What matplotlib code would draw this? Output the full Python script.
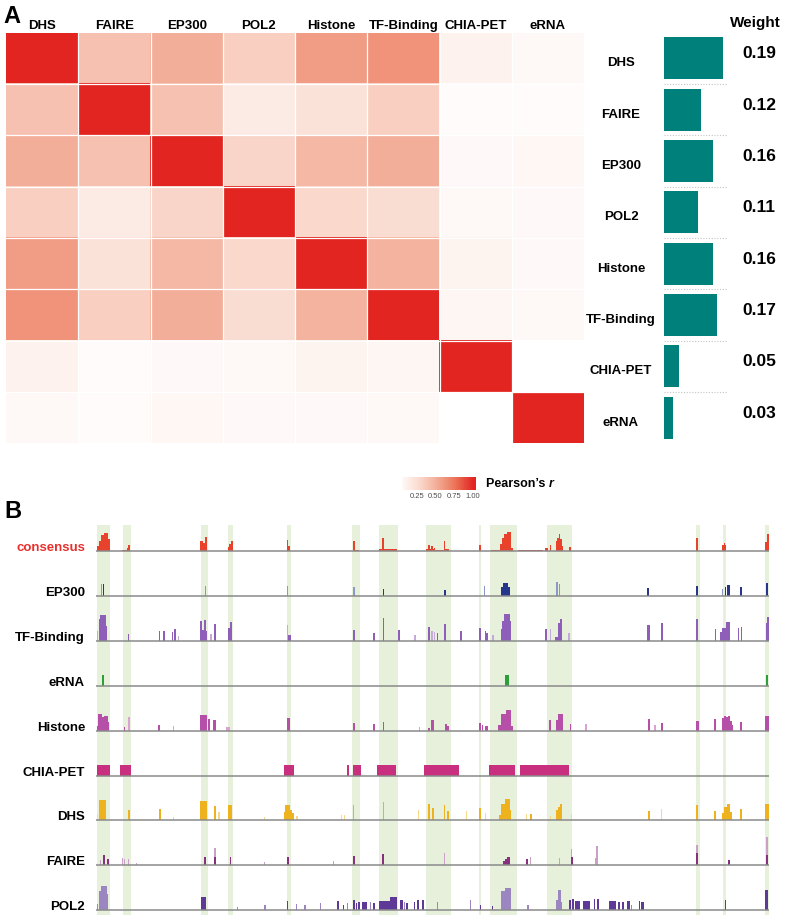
import matplotlib
matplotlib.use("Agg")
import numpy as np
import matplotlib.pyplot as plt
from matplotlib.colors import LinearSegmentedColormap, to_rgb
from matplotlib.transforms import blended_transform_factory

plt.rcParams['font.family'] = ['Liberation Sans', 'DejaVu Sans']

# ---------------- data: panel A ----------------
marks = ["DHS", "FAIRE", "EP300", "POL2", "Histone", "TF-Binding", "CHIA-PET", "eRNA"]
corr_dhs = [1.00, 0.40, 0.50, 0.33, 0.58, 0.62, 0.10, 0.05]
corr_faire = [0.40, 1.00, 0.40, 0.15, 0.22, 0.33, 0.03, 0.03]
corr_ep300 = [0.50, 0.40, 1.00, 0.30, 0.45, 0.50, 0.04, 0.06]
corr_pol2 = [0.33, 0.15, 0.30, 1.00, 0.28, 0.25, 0.05, 0.04]
corr_histone = [0.58, 0.22, 0.45, 0.28, 1.00, 0.48, 0.09, 0.04]
corr_tf = [0.62, 0.33, 0.50, 0.25, 0.48, 1.00, 0.07, 0.05]
corr_chia = [0.10, 0.03, 0.04, 0.05, 0.09, 0.07, 1.00, 0.00]
corr_erna = [0.05, 0.03, 0.06, 0.04, 0.04, 0.05, 0.00, 1.00]
weights = [0.19, 0.12, 0.16, 0.11, 0.16, 0.17, 0.05, 0.03]
cbar_ticks = [0.25, 0.50, 0.75, 1.00]
cbar_labels = ["0.25", "0.50", "0.75", "1.00"]
cbar_range = (0.045, 1.03)

# ---------------- data: panel B ----------------
track_names = ["consensus", "EP300", "TF-Binding", "eRNA", "Histone",
               "CHIA-PET", "DHS", "FAIRE", "POL2"]
track_extent = (96, 768.5)
highlight_regions = [(97, 110), (123, 131), (201, 207.7), (227.7, 233), (287, 290.5),
                     (352, 360), (379, 397.7), (426.3, 450.7), (479, 481.3),
                     (489.7, 516.7), (547, 571.7), (696.3, 699.5), (723, 726),
                     (765.3, 769.5)]

# peaks: (start, end, height, tone)  tone 1 = full colour, 0 = light
consensus = [(97, 99, 5, 1), (99, 101, 10, 1), (101, 104, 16, 1), (104, 108, 18, 1), (108, 110, 12, 1),
             (121.7, 126.7, 1.5, 1), (126.7, 128.3, 3, 1), (128.3, 130, 6, 1),
             (200.3, 203, 10, 1), (203, 205, 8, 1), (205, 207.3, 14, 1),
             (227.7, 229, 4, 1), (229, 231, 7, 1), (231, 232.5, 10, 1),
             (287, 288, 11, 1), (288, 289.7, 5, 1),
             (353, 355.3, 10, 1), (355.3, 359, 1, 1),
             (379, 382.3, 2, 1), (382.3, 384, 13, 1), (384, 397, 2, 1),
             (426.3, 428, 2, 1), (428, 429.7, 6, 1), (429.7, 431.3, 2, 1), (431.3, 433.3, 5, 1),
             (433.3, 434, 2, 1), (434, 435, 3, 1), (435, 444, 1.5, 1), (444, 445.3, 10, 1), (445.3, 449, 2, 1),
             (479, 480.7, 6, 1),
             (491, 499.7, 1, 1), (499.7, 502, 7, 1), (502, 504, 13, 1), (504, 507, 17, 1), (507, 511.3, 19, 1),
             (511.3, 513, 3, 1), (518, 543, 1, 1),
             (544.7, 548, 3, 1), (549.7, 551.3, 6, 1), (555.7, 557, 10, 1), (557, 558.5, 13, 1),
             (558.5, 560, 17, 1), (560, 561.5, 12, 1), (561.5, 563, 5, 1), (569, 571.3, 4, 1),
             (696.3, 698.3, 13, 1), (722, 724, 6, 1), (724, 725, 8, 1), (725, 726, 6, 1),
             (765.3, 766.5, 9, 1), (766.5, 768.7, 17, 1)]

ep300 = [(101, 102.3, 12, 0), (103, 104.3, 12, 1), (204.7, 205.7, 10, 0), (287, 287.7, 10, 0),
         (353.3, 354.7, 8.7, 0), (382.7, 384.3, 7, 1), (444, 445.7, 6, 1), (484, 485, 10, 0),
         (500.7, 502.5, 9, 1), (502.5, 507.5, 12.7, 1), (507.5, 509.7, 9, 1),
         (556.3, 558, 14, 0), (558.7, 560.3, 12, 0), (647.3, 649, 8, 1), (696.3, 698, 10, 1),
         (722, 723.3, 7, 0), (725, 726, 9, 1), (727.3, 729.7, 11, 1), (739.7, 741.7, 9, 1),
         (765.7, 767.7, 13, 1)]

tf_binding = [(97, 98, 10, 0), (99, 100, 22, 1), (100, 106, 26, 1), (106, 106.7, 15, 1), (127.7, 129, 7, 1),
              (159, 160.3, 10, 1), (163.3, 164.7, 10, 1), (171.7, 173, 9, 1), (174.3, 175.7, 12, 1),
              (178.3, 179.3, 5, 0), (200.3, 201.5, 20, 1), (201.5, 204, 11, 1), (204, 205.5, 21, 1),
              (205.5, 206.7, 10, 1), (210.3, 211.7, 7, 0), (213.7, 215.7, 17, 1), (228.3, 230, 13, 1),
              (230, 231.7, 19, 1), (287, 288.3, 16, 0), (288.3, 290.7, 6, 1),
              (353, 354.7, 11, 1), (373, 374.7, 8, 1), (382.7, 384.3, 23, 1), (398.3, 400, 11, 1),
              (414.3, 415.7, 6, 0), (428, 429.7, 14, 1), (431.3, 432.7, 10, 0), (434, 435.3, 9, 0),
              (437, 438.3, 8, 1), (444, 445.7, 17, 1), (460.3, 462, 10, 1), (479, 480.7, 13, 1),
              (484.7, 486.3, 10, 1), (486.3, 488, 8, 1), (492.3, 494, 6, 0), (500.7, 502, 12, 1),
              (502, 504, 20, 1), (504, 509.7, 26.7, 1), (509.7, 510.7, 20, 1),
              (544.7, 547.3, 12, 1), (549.7, 551, 12, 0), (555, 557.7, 4, 1), (557.7, 559.7, 18, 1),
              (559.7, 561.7, 22, 1), (568.3, 569.7, 8, 0), (647.3, 649.7, 15.7, 1), (661.3, 663, 18, 1),
              (696.3, 698.3, 21.7, 1), (714.7, 716.3, 12, 1), (719.7, 722.3, 9, 1), (722.3, 725.7, 13, 1),
              (725.7, 730.3, 19, 1), (737.7, 739, 13, 1), (741, 742.3, 14, 1), (765.7, 766.7, 18, 1),
              (766.7, 769, 24, 1)]

erna = [(101.7, 104, 10.7, 1), (504.7, 509.3, 10.7, 1), (766.3, 768.3, 11, 1)]

histone = [(96.7, 98.3, 5, 1), (98.3, 102.3, 17, 1), (102.3, 104.3, 14, 1), (104.3, 107.7, 15, 1),
           (107.7, 109, 9, 1), (123.7, 125, 4, 1), (127.7, 129.7, 14, 0), (158.3, 160.3, 6, 1),
           (172.7, 174, 5, 0), (200.3, 207, 16, 1), (208.3, 210.3, 12, 1), (213.3, 216, 11, 1),
           (226, 229.7, 4, 0), (287, 289.7, 13, 1),
           (352.7, 354.7, 8, 1), (373, 374.7, 7, 1), (382.7, 384.3, 9, 1), (419, 420.3, 4, 0),
           (428, 429.7, 3, 1), (430.7, 434, 11, 1), (444.7, 446.7, 7, 1), (446.7, 448.7, 5, 1),
           (479, 481.3, 8, 1), (481.7, 483, 6, 1), (484.7, 488, 5, 1), (498, 500.7, 6, 1),
           (500.7, 506.3, 17, 1), (506.3, 510.7, 20.7, 1), (510.7, 513, 5, 1),
           (549, 551, 10.7, 1), (555.7, 558.3, 11, 1), (558.3, 563, 16.3, 1), (569.7, 571.3, 7, 1),
           (585, 587, 7, 0), (648, 650, 11.7, 1), (654, 655.7, 6, 0), (661, 662.7, 8, 1),
           (696.3, 699, 10, 1), (714.3, 716, 12, 1), (722, 724, 13, 1), (724, 726, 15, 1),
           (726, 728, 14, 1), (728, 730, 15, 1), (730, 731.5, 10, 1), (731.5, 733, 6, 1),
           (739.7, 742.3, 9, 1), (765, 768.7, 14.7, 1)]

chia_pet = [(96, 110, 11, 1), (120, 130.7, 11, 1), (283.7, 294.3, 11, 1), (346.7, 348.7, 11, 1),
            (352.7, 361.3, 11, 1), (377, 396, 11, 1), (423.7, 459, 11, 1), (489, 515.3, 11, 1),
            (520.3, 569.3, 11, 1)]

dhs = [(96, 97.7, 6, 0), (99, 106, 20, 1), (127.7, 129.7, 10, 1), (159, 160.7, 11, 1), (172.7, 174, 3, 0),
       (200.3, 206.7, 19, 1), (213.7, 215.7, 14, 1), (218.3, 219.7, 8, 0), (227.7, 232.3, 15.7, 1),
       (264.3, 265.3, 3, 0), (283.7, 285, 8, 1), (285, 290, 15, 1), (290, 291.7, 10, 1),
       (292.3, 294, 7, 1), (296, 297.7, 4, 0),
       (340.7, 342, 5, 0), (344, 345.3, 5, 0), (353, 354.3, 15, 1), (382.7, 384, 18, 1),
       (418, 419, 10, 0), (428, 430, 16, 1), (432.3, 434, 12, 1), (444, 445.3, 15, 1),
       (447.3, 449.3, 9, 1), (466, 467.3, 9, 0), (479, 480.7, 12, 1), (484.7, 486.3, 7, 0),
       (499, 501.3, 5, 1), (501.3, 504.7, 16, 1), (504.7, 509.7, 21, 1), (509.7, 510.7, 10, 1),
       (525.7, 527.3, 6, 0), (530, 531.7, 6, 1),
       (549.7, 551, 4, 0), (555.7, 557.7, 10, 1), (557.7, 559.7, 13, 1), (559.7, 561.7, 16, 1),
       (571.3, 572.3, 6, 0), (648, 650, 9, 1), (661, 662.3, 11, 0), (696.3, 698.3, 15, 1),
       (714.3, 716, 9, 1), (722, 724, 7, 1), (724, 727, 13, 1), (727, 730.3, 16, 1),
       (730.3, 731.7, 8, 1), (739.7, 742.3, 11, 1), (765.3, 768.7, 16, 1)]

faire = [(99.7, 101, 5, 0), (103.3, 104.7, 10, 1), (107.3, 108.7, 6, 1), (121.7, 123.3, 7, 0),
         (124, 125.3, 6, 0), (127.7, 128.7, 6, 0), (136.3, 137, 2, 0), (204.3, 206, 8, 1),
         (214, 215.7, 17, 0), (214, 215.7, 8, 1), (229.7, 231.3, 8, 1), (264.3, 265.3, 3, 0),
         (287, 289, 8, 1),
         (333.3, 334, 4, 0), (344.7, 345.3, 4, 0), (353, 354.7, 9, 1), (382.3, 384.3, 11, 1),
         (444.3, 445.3, 12, 0), (503, 504.7, 4, 1), (505.3, 507.3, 6, 1), (507.3, 510, 8, 1),
         (526, 527.7, 6, 1), (530, 531.3, 8, 0),
         (559, 560.3, 7, 0), (571, 572, 16, 0), (570.7, 573, 8, 1), (594.7, 596.3, 7, 0),
         (596.3, 598, 19, 0), (696.3, 698, 20, 0), (696.3, 698, 12, 1), (728, 729.7, 5, 1),
         (766, 768, 28, 0), (766, 768, 10, 1)]

pol2 = [(96, 97.7, 6, 0), (99, 101, 19, 0), (101, 106.7, 24, 0), (106.7, 108.3, 16, 0),
        (201, 206, 13.7, 1), (236.7, 237.7, 3, 0), (264.3, 265.7, 5, 0), (286.7, 288.3, 9, 1),
        (295.7, 297, 6, 0), (304.3, 305.7, 5, 0),
        (319.7, 321.3, 7, 0), (337.3, 339.3, 9, 1), (343, 344, 5, 1), (347.3, 348.3, 7, 0),
        (352.7, 354.7, 10, 1), (355.7, 357.3, 7, 1), (357.7, 359.7, 8, 1), (362.3, 367.3, 8, 1),
        (369.7, 371.3, 8, 0), (373, 374.7, 7, 1), (379, 389.7, 9, 1), (389.7, 396.7, 13, 1),
        (399.7, 403.3, 10, 1), (404, 405.3, 8, 0), (406.3, 408, 7, 1), (414, 415.3, 8, 1),
        (417.3, 418.7, 10, 1), (422, 424, 10, 1), (437, 438.3, 8, 0), (469.7, 470.7, 10, 0),
        (480.3, 481.3, 5, 1), (492, 493.3, 4, 1), (500.7, 504.7, 19, 0), (504.7, 510.7, 22.7, 0),
        (527.3, 528.7, 5, 0),
        (556.3, 558.3, 10, 0), (558.3, 561, 20, 0), (561, 562.3, 8, 0), (569, 571, 10, 1),
        (572.3, 574, 11, 1), (574.7, 576.3, 9, 1), (576.3, 578.3, 9, 1), (578.3, 580.3, 9, 1),
        (583, 590.3, 9, 1), (593.7, 595.3, 11, 1), (597.3, 599, 11, 1), (609, 615.7, 9, 1),
        (617.7, 619.7, 8, 1), (622.3, 624.3, 8, 1), (627, 630.3, 9, 1), (631.3, 632.3, 5, 0),
        (639, 640.3, 9, 1), (640.7, 643.7, 8, 1), (724.7, 726.3, 10, 1), (765, 768.3, 20, 1)]

track_peaks = [consensus, ep300, tf_binding, erna, histone, chia_pet, dhs, faire, pol2]
track_dark = ['#E8412C', '#26368C', '#8E5FB8', '#2E9E3A', '#B64FA8',
              '#C8307F', '#EFB21F', '#86307F', '#5E3A96']
track_light = ['#F2937F', '#8C98C8', '#C4AADB', '#8FD197', '#DBA3D3',
               '#E396BE', '#F7D88A', '#C9A0C6', '#9C86C2']

# ---------------- figure ----------------
W, H = 786, 919
fig = plt.figure(figsize=(W / 100, H / 100), dpi=100)


def add_px(l, t, r, b):
    return fig.add_axes([l / W, 1 - b / H, (r - l) / W, (b - t) / H])


cmap = LinearSegmentedColormap.from_list(
    "pearson", [(0.0, '#FFFFFF'), (0.25, '#FBDED3'), (0.5, '#F4AF9A'),
                (0.75, '#EC7559'), (1.0, '#E32522')])

# Panel A heatmap
corr = np.array([corr_dhs, corr_faire, corr_ep300, corr_pol2,
                 corr_histone, corr_tf, corr_chia, corr_erna])
axh = add_px(6, 32.7, 584, 443.3)
axh.imshow(corr, cmap=cmap, vmin=0, vmax=1, aspect='auto', interpolation='nearest')
for k in range(1, len(marks)):
    axh.axhline(k - 0.5, color='white', lw=0.9)
    axh.axvline(k - 0.5, color='white', lw=0.9)
axh.set_axis_off()
for j, m in enumerate(marks):
    axh.annotate(m, xy=(j, -0.5), xytext=(0, 2.4), textcoords='offset points',
                 ha='center', va='baseline', fontsize=9.5, fontweight='bold',
                 annotation_clip=False)

fig.text(3.3 / W, 1 - 23.3 / H, "A", fontsize=17, fontweight='bold', va='baseline', ha='left')

# Weights bar chart
axb = add_px(664, 32.7, 728, 443.3)
ypos = np.arange(len(marks))
axb.barh(ypos, weights, height=0.82, color='#00807A', zorder=2)
axb.set_xlim(0, 0.207)
axb.set_ylim(len(marks) - 0.5, -0.5)
for k in range(len(marks) - 1):
    axb.axhline(k + 0.5, color='#c4c4c4', lw=0.8, ls=(0, (1, 1.5)), zorder=1)
axb.axis('off')
btr = blended_transform_factory(axb.transAxes, axb.transData)
for i, m in enumerate(marks):
    axb.annotate(m, xy=(0, i), xycoords=btr, xytext=(-31, -5.8), textcoords='offset points',
                 ha='center', va='baseline', fontsize=9.5, fontweight='bold',
                 annotation_clip=False)
    axb.annotate(f"{weights[i]:.2f}", xy=(1, i), xycoords=btr, xytext=(22.3, 0),
                 textcoords='offset points', ha='center', va='baseline', fontsize=12.5,
                 fontweight='bold', annotation_clip=False)
fig.text(755 / W, 1 - 26.7 / H, "Weight", ha='center', va='baseline', fontsize=11,
         fontweight='bold')

# Colour legend
axc = add_px(401.7, 476.7, 475, 490)
grad = np.linspace(cbar_range[0], cbar_range[1], 256)[None, :]
axc.imshow(grad, cmap=cmap, vmin=0, vmax=1, aspect='auto',
           extent=(cbar_range[0], cbar_range[1], 0, 1))
axc.set_xlim(*cbar_range)
axc.set_ylim(0, 1)
axc.set_xticks(cbar_ticks)
axc.set_xticklabels(cbar_labels, fontsize=5.5, color='#4d4d4d')
axc.tick_params(axis='x', length=0, pad=2.4)
axc.set_yticks([])
for s in axc.spines.values():
    s.set_visible(False)
t1 = fig.text(486 / W, 1 - 487.3 / H, "Pearson\u2019s ", fontsize=9, fontweight='bold',
              va='baseline', ha='left')
fig.text(0, 0, "")
axc.annotate("r", xy=(1, 0), xycoords=t1, va='bottom', ha='left', fontsize=9,
             fontweight='bold', fontstyle='italic', annotation_clip=False)

# Panel B
fig.text(4 / W, 1 - 518 / H, "B", fontsize=17, fontweight='bold', va='baseline', ha='left')

band_ax = add_px(97, 525, 769, 915)
band_ax.set_xlim(97, 769)
band_ax.set_ylim(0, 1)
for a, b in highlight_regions:
    band_ax.axvspan(a, b, color='#E7F0DA', lw=0)
band_ax.axis('off')

baseline0, spacing = 551.0, 44.9
for i, (name, peaks) in enumerate(zip(track_names, track_peaks)):
    yb = baseline0 + spacing * i
    ax = add_px(97, yb - 40, 769, yb)
    ax.set_xlim(97, 769)
    ax.set_ylim(0, 40)
    ax.patch.set_alpha(0)
    starts = [p[0] for p in peaks]
    widths = [p[1] - p[0] for p in peaks]
    heights = [p[2] for p in peaks]
    cols = [track_dark[i] if p[3] == 1 else track_light[i] for p in peaks]
    ax.bar(starts, heights, width=widths, align='edge', color=cols, linewidth=0, zorder=2)
    ax.plot(track_extent, [0, 0], color='#8a8a8a', lw=1.1, clip_on=False,
            solid_capstyle='butt', zorder=3)
    ax.axis('off')
    fig.text(85 / W, 1 - yb / H, name, ha='right', va='baseline', fontsize=9.5,
             fontweight='bold', color='#E8312F' if i == 0 else 'black')

fig.savefig("out.png", dpi=100)
